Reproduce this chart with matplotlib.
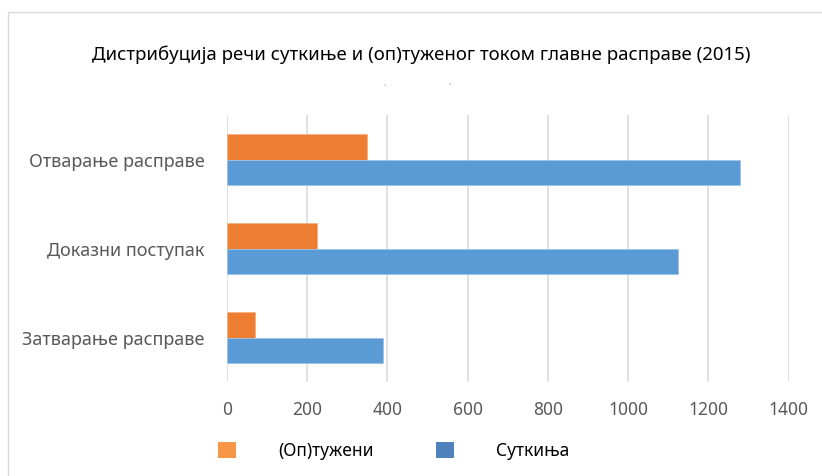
import numpy as np
import matplotlib
matplotlib.use('Agg')
import matplotlib.pyplot as plt
from matplotlib.patches import Patch, Rectangle

plt.rcParams['font.family'] = ['Noto Sans', 'DejaVu Sans']

title = 'Дистрибуција речи суткиње и (оп)туженог током главне расправе (2015)'
categories = ['Отварање расправе', 'Доказни поступак', 'Затварање расправе']
series_names = ['(Оп)тужени', 'Суткиња']
accused = [348, 225, 70]
judge = [1280, 1125, 388]
xticks = [0, 200, 400, 600, 800, 1000, 1200, 1400]

bar_colors = ['#ED7D31', '#5B9BD5']
legend_colors = ['#F79646', '#4F81BD']
txt = '#595959'

W, H = 822, 476
fig = plt.figure(figsize=(W/100, H/100), dpi=100)
ax = fig.add_axes([227/W, 1-382/H, (788.5-227)/W, (382-115)/H])

y = np.arange(len(categories))
h = 0.285
ax.barh(y - h/2, accused, height=h, color=bar_colors[0], edgecolor='#F4B183', linewidth=0.6, zorder=3)
ax.barh(y + h/2, judge, height=h, color=bar_colors[1], edgecolor='#9DC3E6', linewidth=0.6, zorder=3)

ax.set_ylim(len(categories) - 0.5, -0.5)
ax.set_xlim(0, 1400)
ax.set_xticks(xticks)
ax.set_xticklabels([str(t) for t in xticks], color=txt, fontsize=12.5)
ax.set_yticks(y)
ax.set_yticklabels(categories, color=txt, fontsize=13)
ax.tick_params(axis='x', length=0, pad=14)
ax.tick_params(axis='y', length=0, pad=16)
ax.grid(axis='x', color='#D9D9D9', linewidth=1.1, zorder=0)
for s in ax.spines.values():
    s.set_visible(False)

fig.text(421.5/W, 1-55/H, title, ha='center', va='center', fontsize=13.45, color='black')
# faint marks under the title, as in the source
fig.text(385/W, 1-82/H, '\u02ce', ha='center', va='center', fontsize=6, color='#888888')
fig.text(450/W, 1-80/H, '\u02cf', ha='center', va='center', fontsize=6, color='#888888')

# chart border (left and top visible)
fig.add_artist(Rectangle((8/W, -0.1), 1.2, 1-12/H + 0.1, transform=fig.transFigure,
                         fill=False, edgecolor='#D9D9D9', linewidth=1.0))

handles = [Patch(facecolor=c, edgecolor='none') for c in legend_colors]
fig.legend(handles, series_names, loc='center left', bbox_to_anchor=(218/W, 1-451/H),
           ncol=2, frameon=False, fontsize=12.5, handlelength=1.05, handleheight=1.05,
           handletextpad=2.4, columnspacing=3.6, borderpad=0, borderaxespad=0,
           labelcolor='black')

fig.savefig('out.png', dpi=100)
